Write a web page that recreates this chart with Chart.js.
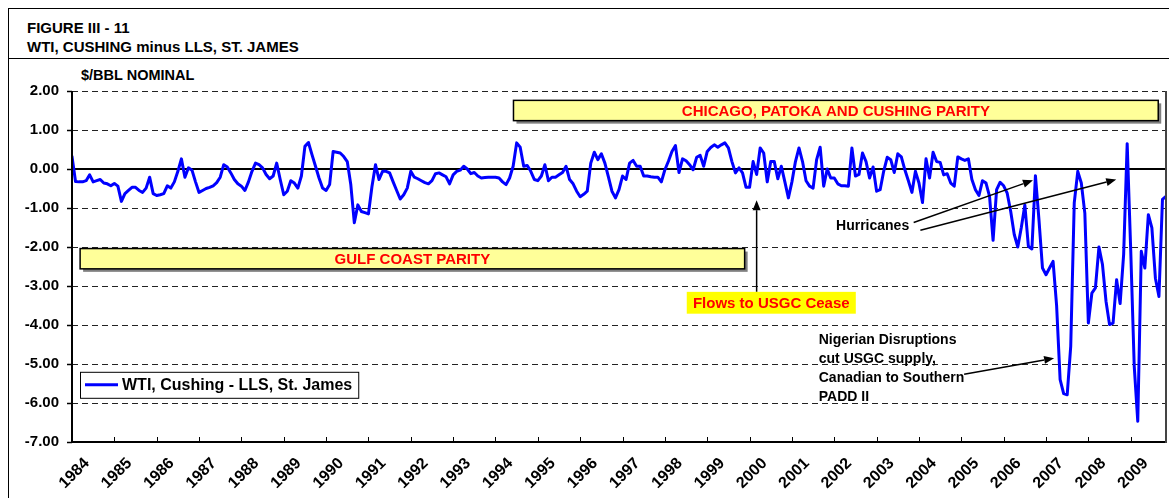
<!DOCTYPE html>
<html>
<head>
<meta charset="utf-8">
<title>WTI, Cushing minus LLS, St. James</title>
<script src="https://cdn.jsdelivr.net/npm/chart.js@4.4.0/dist/chart.umd.min.js"></script>
<style>
  html, body { margin: 0; padding: 0; background: #fff; }
  #wrap { position: relative; width: 1169px; height: 498px; overflow: hidden;
          font-family: Arial, "Liberation Sans", sans-serif; }
  #frame { position: absolute; left: 8px; top: 8px; width: 1300px; height: 600px;
           border-left: 1px solid #000; border-top: 1px solid #000; }
  #rule { position: absolute; left: 8px; top: 58px; width: 1300px; border-top: 1px solid #000; }
  .hd { position: absolute; font-weight: bold; font-size: 15px; line-height: 15px;
        color: #000; white-space: nowrap; }
  canvas { position: absolute; left: 0; top: 0; }
</style>
</head>
<body>
<div id="wrap">
  <div id="frame"></div>
  <div id="rule"></div>
  <div class="hd" style="left:27px;top:20px;">FIGURE III - 11</div>
  <div class="hd" style="left:27px;top:39px;">WTI, CUSHING minus LLS, ST. JAMES</div>
  <div class="hd" style="left:81px;top:68px;font-size:14.5px;">$/BBL NOMINAL</div>
  <canvas id="chart" width="1169" height="498"></canvas>
</div>
<script>
"use strict";

/* ---- data: monthly spread, $/bbl, first point = Jan 1984 ---- */
const startYear = 1984;
const yearLabels = ["1984", "1985", "1986", "1987", "1988", "1989", "1990", "1991", "1992",
  "1993", "1994", "1995", "1996", "1997", "1998", "1999", "2000", "2001", "2002", "2003",
  "2004", "2005", "2006", "2007", "2008", "2009"];
const seriesName = "WTI, Cushing - LLS, St. James";
const spread = [
  0.32, -0.32, -0.33, -0.33, -0.30, -0.15, -0.33, -0.30, -0.27, -0.36, -0.38, -0.43, // 1984
  -0.37, -0.44, -0.83, -0.63, -0.55, -0.47, -0.47, -0.55, -0.60, -0.49, -0.21, -0.63, // 1985
  -0.68, -0.66, -0.63, -0.43, -0.49, -0.33, -0.06, 0.26, -0.21, 0.03, -0.03, -0.33, // 1986
  -0.60, -0.55, -0.50, -0.47, -0.43, -0.35, -0.21, 0.11, 0.05, -0.10, -0.27, -0.38, // 1987
  -0.44, -0.55, -0.33, -0.06, 0.15, 0.11, 0.03, -0.14, -0.25, -0.18, 0.15, -0.27, // 1988
  -0.66, -0.57, -0.30, -0.36, -0.49, -0.18, 0.58, 0.68, 0.37, 0.07, -0.23, -0.49, // 1989
  -0.55, -0.40, 0.45, 0.43, 0.41, 0.32, 0.19, -0.40, -1.38, -0.92, -1.09, -1.12, // 1990
  -1.15, -0.45, 0.11, -0.27, -0.06, -0.06, -0.10, -0.33, -0.55, -0.77, -0.66, -0.49, // 1991
  -0.06, -0.21, -0.25, -0.30, -0.35, -0.38, -0.30, -0.12, -0.10, -0.15, -0.20, -0.38, // 1992
  -0.15, -0.06, -0.03, 0.07, 0.00, -0.12, -0.09, -0.18, -0.23, -0.22, -0.21, -0.21, // 1993
  -0.21, -0.23, -0.33, -0.40, -0.23, 0.07, 0.67, 0.56, 0.07, 0.09, -0.06, -0.27, // 1994
  -0.30, -0.18, 0.11, -0.30, -0.21, -0.21, -0.15, -0.09, 0.07, -0.27, -0.38, -0.57, // 1995
  -0.71, -0.65, -0.57, 0.15, 0.43, 0.24, 0.39, 0.15, -0.20, -0.57, -0.74, -0.53, // 1996
  -0.18, -0.27, 0.15, 0.22, 0.07, 0.07, -0.18, -0.18, -0.20, -0.21, -0.21, -0.33, // 1997
  -0.02, 0.20, 0.45, 0.60, -0.09, 0.26, 0.21, 0.11, -0.02, 0.30, 0.35, 0.07, // 1998
  0.45, 0.55, 0.62, 0.56, 0.62, 0.67, 0.54, 0.19, -0.10, 0.03, -0.10, -0.47, // 1999
  -0.47, 0.19, -0.14, 0.54, 0.41, -0.33, 0.19, 0.19, -0.25, 0.07, -0.33, -0.74, // 2000
  -0.33, 0.19, 0.54, 0.19, -0.30, -0.44, -0.49, 0.24, 0.56, -0.44, 0.00, -0.23, // 2001
  -0.23, -0.38, -0.43, -0.43, -0.44, 0.54, -0.18, -0.14, 0.41, 0.19, -0.23, 0.05, // 2002
  -0.57, -0.53, -0.06, 0.30, 0.24, -0.09, 0.39, 0.31, -0.02, -0.30, -0.60, -0.06, // 2003
  -0.36, -0.86, 0.26, -0.23, 0.43, 0.19, 0.17, -0.15, -0.12, -0.36, -0.44, 0.31, // 2004
  0.26, 0.22, 0.26, -0.27, -0.53, -0.68, -0.30, -0.36, -0.70, -1.83, -0.53, -0.34, // 2005
  -0.43, -0.62, -1.09, -1.68, -2.00, -1.50, -0.92, -1.98, -2.05, -0.17, -1.30, -2.54, // 2006
  -2.71, -2.54, -2.37, -3.50, -5.40, -5.76, -5.79, -4.55, -0.87, -0.06, -0.36, -1.13, // 2007
  -3.95, -3.18, -3.05, -2.00, -2.45, -3.39, -3.99, -3.95, -2.84, -3.45, -2.19, 0.65, // 2008
  -2.07, -5.06, -6.47, -2.11, -2.54, -1.17, -1.51, -2.80, -3.27, -0.78, -0.70, // 2009
];

/* ---- annotations, placed in data units (month index, $/bbl) ---- */
const parityBoxes = [
  { text: "CHICAGO, PATOKA AND CUSHING PARITY", x0: 125.1, x1: 307.8, top: 1.76, bottom: 1.24 },
  { text: "GULF COAST PARITY", x0: 2.3, x1: 190.6, top: -2.04, bottom: -2.56 },
];
const flowsNote = { text: "Flows to USGC Cease", x0: 174.2, x1: 222.1, top: -3.15, bottom: -3.71 };
const textNotes = [
  { lines: ["Hurricanes"], x: 216.5, y: -1.47 },
  { lines: ["Nigerian Disruptions", "cut USGC supply,", "Canadian to Southern", "PADD II"], x: 211.6, y: -4.38 },
];
const arrows = [
  { from: [194, -3.15], to: [194, -0.8] },
  { from: [238.5, -1.37], to: [272.3, -0.29] },
  { from: [240.4, -1.57], to: [295.9, -0.27] },
  { from: [252.8, -5.26], to: [278.3, -4.85] },
];

const FONT = 'Arial, "Liberation Sans", sans-serif';
Chart.defaults.font.family = FONT;
Chart.defaults.color = "#000";

function seg(ctx, x1, y1, x2, y2) {
  ctx.beginPath();
  ctx.moveTo(x1, y1);
  ctx.lineTo(x2, y2);
  ctx.stroke();
}

function arrow(ctx, x1, y1, x2, y2) {
  const ang = Math.atan2(y2 - y1, x2 - x1);
  const len = 10, half = 4;
  const bx = x2 - len * Math.cos(ang), by = y2 - len * Math.sin(ang);
  seg(ctx, x1, y1, bx, by);
  ctx.beginPath();
  ctx.moveTo(x2, y2);
  ctx.lineTo(bx + half * Math.sin(ang), by - half * Math.cos(ang));
  ctx.lineTo(bx - half * Math.sin(ang), by + half * Math.cos(ang));
  ctx.closePath();
  ctx.fill();
}

const figurePlugin = {
  id: "figure",
  beforeDatasetsDraw(chart) {
    const { ctx, chartArea: a, scales: { y } } = chart;
    ctx.save();
    ctx.strokeStyle = "#000";
    ctx.lineWidth = 2;
    const y0 = y.getPixelForValue(0);
    seg(ctx, a.left, y0, a.right, y0);
    ctx.restore();
  },
  afterDatasetsDraw(chart) {
    const { ctx, chartArea: a, scales: { x, y } } = chart;
    const px = (v) => x.getPixelForValue(v);
    const py = (v) => y.getPixelForValue(v);
    ctx.save();

    // axes + right border of the plot
    ctx.strokeStyle = "#000";
    ctx.lineWidth = 2;
    seg(ctx, a.left, a.top, a.left, a.bottom + 1);
    seg(ctx, a.left - 1, a.bottom, a.right, a.bottom);
    ctx.strokeStyle = "#444";
    seg(ctx, a.right, a.top, a.right, a.bottom + 1);

    // year tick marks, pointing inward
    ctx.strokeStyle = "#000";
    ctx.lineWidth = 1;
    for (let i = 1; i < yearLabels.length; i++) {
      const tx = Math.round(px(i * 12)) + 0.5;
      seg(ctx, tx, a.bottom, tx, a.bottom - 5);
    }

    // parity boxes with shadow
    ctx.textAlign = "center";
    ctx.textBaseline = "middle";
    parityBoxes.forEach((b) => {
      const l = px(b.x0), r = px(b.x1), t = py(b.top), btm = py(b.bottom);
      ctx.fillStyle = "#7f7f7f";
      ctx.fillRect(l + 3, t + 3, r - l, btm - t);
      ctx.fillStyle = "#ffff99";
      ctx.fillRect(l, t, r - l, btm - t);
      ctx.strokeStyle = "#000";
      ctx.lineWidth = 1.5;
      ctx.strokeRect(l, t, r - l, btm - t);
      ctx.fillStyle = "#ff0000";
      ctx.font = "bold 15px " + FONT;
      ctx.fillText(b.text, (l + r) / 2, (t + btm) / 2 + 1);
    });

    // arrows
    ctx.strokeStyle = "#000";
    ctx.fillStyle = "#000";
    ctx.lineWidth = 1.5;
    arrows.forEach((ar) => arrow(ctx, px(ar.from[0]), py(ar.from[1]), px(ar.to[0]), py(ar.to[1])));

    // "Flows to USGC Cease"
    {
      const l = px(flowsNote.x0), r = px(flowsNote.x1), t = py(flowsNote.top), btm = py(flowsNote.bottom);
      ctx.fillStyle = "#ffff00";
      ctx.fillRect(l, t, r - l, btm - t);
      ctx.fillStyle = "#ff0000";
      ctx.font = "bold 15px " + FONT;
      ctx.fillText(flowsNote.text, (l + r) / 2, (t + btm) / 2 + 1);
    }

    // plain notes
    ctx.textAlign = "left";
    ctx.fillStyle = "#000";
    ctx.font = "bold 14px " + FONT;
    textNotes.forEach((n) => {
      n.lines.forEach((ln, i) => ctx.fillText(ln, px(n.x), py(n.y) + i * 19.2));
    });

    // legend inside the plot
    {
      ctx.font = "bold 16px " + FONT;
      const l = a.left + 8, t = py(-5.2), h = 26;
      const w = 42 + ctx.measureText(seriesName).width + 6;
      ctx.fillStyle = "#fff";
      ctx.fillRect(l, t, w, h);
      ctx.strokeStyle = "#000";
      ctx.lineWidth = 1;
      ctx.strokeRect(l + 0.5, t + 0.5, w, h);
      ctx.strokeStyle = "#0000ff";
      ctx.lineWidth = 3;
      seg(ctx, l + 5, t + h / 2, l + 38, t + h / 2);
      ctx.fillStyle = "#000";
      ctx.fillText(seriesName, l + 42, t + h / 2 + 1);
    }
    ctx.restore();
  },
};

const points = spread.map((v, i) => ({ x: i, y: v }));

new Chart(document.getElementById("chart"), {
  type: "line",
  data: {
    datasets: [
      {
        label: seriesName,
        data: points,
        borderColor: "#0000ff",
        borderWidth: 3,
        borderJoinStyle: "round",
        borderCapStyle: "round",
        pointRadius: 0,
        tension: 0,
        fill: false,
      },
    ],
  },
  options: {
    responsive: false,
    animation: false,
    events: [],
    layout: { padding: { top: 91, right: 3, left: 0, bottom: 0 } },
    plugins: { legend: { display: false }, tooltip: { enabled: false } },
    scales: {
      x: {
        type: "linear",
        min: 0,
        max: 310,
        grid: { display: false, drawTicks: false },
        border: { display: false },
        ticks: {
          stepSize: 12,
          includeBounds: false,
          autoSkip: false,
          minRotation: 45,
          maxRotation: 45,
          labelOffset: 15,
          padding: 12,
          color: "#000",
          font: { size: 16, weight: "bold" },
          callback: (v) => (v % 12 === 0 ? String(startYear + v / 12) : ""),
        },
        afterFit: (s) => { s.height = 56; },
      },
      y: {
        min: -7,
        max: 2,
        grid: { color: "#222", lineWidth: 1, drawTicks: true, tickLength: 5, tickColor: "#000", tickWidth: 1.5 },
        border: { display: false, dash: [6, 4] },
        ticks: {
          stepSize: 1,
          padding: 8,
          color: "#000",
          font: { size: 15, weight: "bold" },
          callback: (v) => v.toFixed(2),
        },
        afterFit: (s) => { s.width = 72; },
      },
    },
  },
  plugins: [figurePlugin],
});
</script>
</body>
</html>
